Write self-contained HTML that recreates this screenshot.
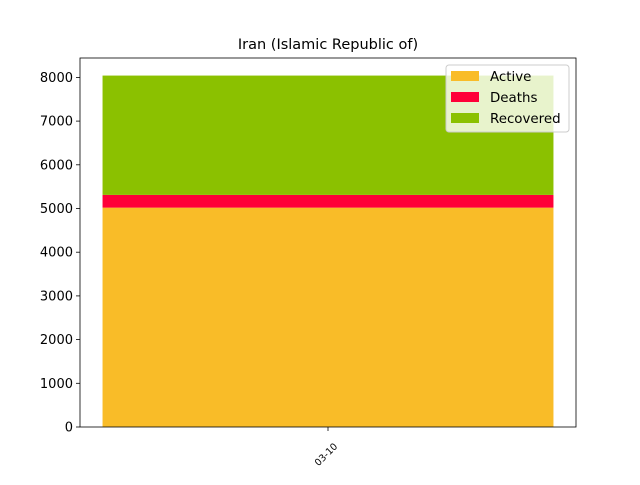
<!DOCTYPE html>
<html><head><meta charset="utf-8"><style>
body{margin:0;background:#fff;font-family:"Liberation Sans","DejaVu Sans",sans-serif}
svg text{font-family:"DejaVu Sans","Liberation Sans",sans-serif}
</style></head><body>
<svg id="c" width="640" height="480" xmlns="http://www.w3.org/2000/svg"></svg>
<script>
const categories=["03-10"];
const active=[5020];
const deaths=[291];
const recovered=[2731];
const yTicks=[0,1000,2000,3000,4000,5000,6000,7000,8000];
const seriesNames=["Active","Deaths","Recovered"];
const colors=["#f9bc28","#ff0038","#8bc100"];
const svg=document.getElementById('c');
const NS="http://www.w3.org/2000/svg";
const L=80,R=576,T=58,B=427;
const totals=categories.map((c,i)=>active[i]+deaths[i]+recovered[i]);
const ymax=Math.max(...totals)*1.05;
const n=categories.length;
const xmin=-0.44,xmax=n-1+0.44;
const xs=v=>L+(v-xmin)/(xmax-xmin)*(R-L);
const ys=v=>B-v/ymax*(B-T);
function mk(tag,attrs){const e=document.createElementNS(NS,tag);for(const k in attrs)e.setAttribute(k,attrs[k]);svg.appendChild(e);return e;}
const t=mk('text',{x:328,y:49,'text-anchor':'middle','font-size':14.5});t.textContent="Iran (Islamic Republic of)";


categories.forEach((c,i)=>{
  const series=[active[i],deaths[i],recovered[i]];let base=0;
  series.forEach((v,k)=>{
    const r=mk('rect',{x:xs(i-0.4),width:xs(i+0.4)-xs(i-0.4),y:ys(base+v),height:ys(base)-ys(base+v),fill:colors[k]});
    
    
    base+=v;
  });
  const x=xs(i);
  mk('line',{x1:x,x2:x,y1:B,y2:B+4,stroke:'#000','stroke-width':0.8});
  const ax0=x+10,ay0=B+20;
  const tl=mk('text',{x:ax0,y:ay0,'font-size':9.5,'text-anchor':'end',transform:`rotate(-45 ${ax0} ${ay0})`});
  tl.textContent=c;
  
  
});
yTicks.forEach(v=>{
  const y=ys(v);
  mk('line',{x1:L-4,x2:L,y1:y,y2:y,stroke:'#000','stroke-width':0.8});
  const tl=mk('text',{x:L-7,y:y+4.5,'font-size':13,'text-anchor':'end'});tl.textContent=v;
  
  
});
const ax=mk('rect',{x:L,y:T,width:R-L,height:B-T,fill:'none',stroke:'#000','stroke-width':0.8});


const lg=mk('rect',{x:446,y:65,width:123,height:67,rx:3,fill:'#fff','fill-opacity':0.8,stroke:'#ccc'});


seriesNames.forEach((s,k)=>{
  const y=71+k*21;
  mk('rect',{x:451,y:y,width:28,height:10,fill:colors[k]});
  const lt=mk('text',{x:490,y:y+10,'font-size':13.4});lt.textContent=s;
  
  
});
</script>
</body></html>
